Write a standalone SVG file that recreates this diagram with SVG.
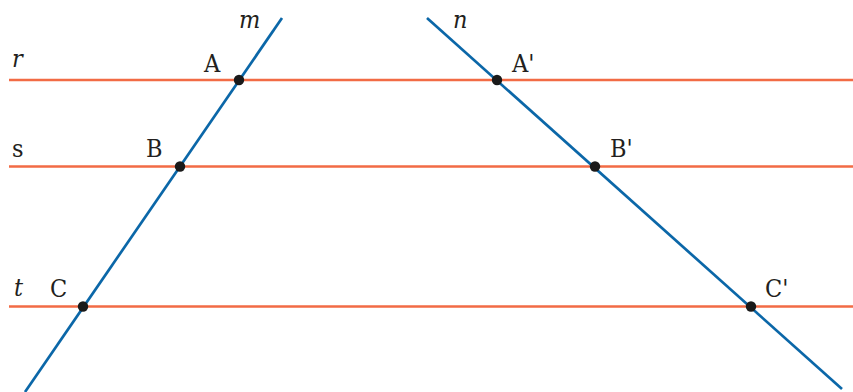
<svg xmlns="http://www.w3.org/2000/svg" width="853" height="392" viewBox="0 0 853 392">
<style>
.par{stroke:#F26B45;stroke-width:2.6;fill:none}
.tr{stroke:#0B67A8;stroke-width:2.7;fill:none}
.pt{fill:#1A1A1A}
.lb{font-family:"DejaVu Serif Condensed","DejaVu Serif","Liberation Serif",serif;font-size:25px;fill:#231F20}
.it{font-style:italic}
</style>
<rect width="853" height="392" fill="#fff"/>
<g id="connectors">
<line id="r" class="par" x1="9" y1="80" x2="853" y2="80"/>
<line id="s" class="par" x1="9" y1="166.5" x2="853" y2="166.5"/>
<line id="t" class="par" x1="9" y1="306.5" x2="853" y2="306.5"/>
<line id="m" class="tr" x1="282" y1="18" x2="25" y2="392"/>
<line id="n" class="tr" x1="427" y1="18" x2="842" y2="389"/>
</g>
<g id="label-r"><text class="lb it" x="12" y="67">r</text></g>
<g id="label-s"><text class="lb" x="12" y="157">s</text></g>
<g id="label-t"><text class="lb it" x="14" y="296">t</text></g>
<g id="label-m"><text class="lb it" x="239" y="28">m</text></g>
<g id="label-n"><text class="lb it" x="453" y="28">n</text></g>
<g id="node-A"><circle class="pt" cx="239" cy="80" r="5.2"/><text class="lb" x="204" y="72">A</text></g>
<g id="node-B"><circle class="pt" cx="180" cy="166.5" r="5.2"/><text class="lb" x="146" y="157">B</text></g>
<g id="node-C"><circle class="pt" cx="83" cy="306.5" r="5.2"/><text class="lb" x="50" y="297">C</text></g>
<g id="node-A2"><circle class="pt" cx="497" cy="80" r="5.2"/><text class="lb" x="512" y="72">A'</text></g>
<g id="node-B2"><circle class="pt" cx="595" cy="166.5" r="5.2"/><text class="lb" x="610" y="157">B'</text></g>
<g id="node-C2"><circle class="pt" cx="751" cy="306.5" r="5.2"/><text class="lb" x="765" y="297">C'</text></g>
</svg>
